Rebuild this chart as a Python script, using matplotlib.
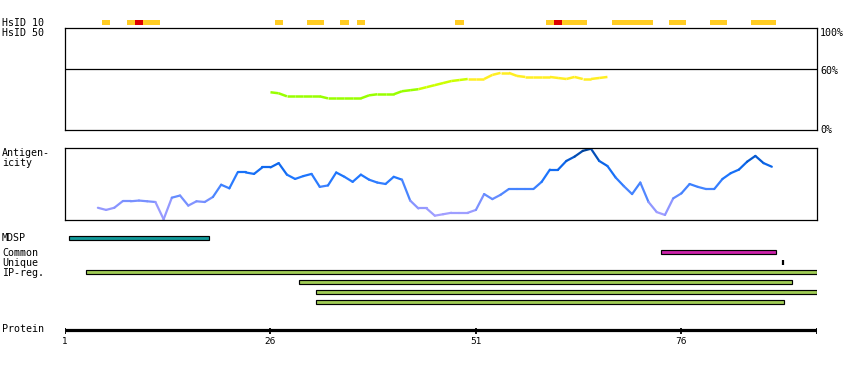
import matplotlib
matplotlib.use("Agg")
import matplotlib.pyplot as plt
import numpy as np
from matplotlib.collections import LineCollection
from matplotlib.colors import LinearSegmentedColormap

# ---------------- data ----------------
protein_length = 92
axis_ticks = [1, 26, 51, 76]

# HsID 10 conserved residues (first, last)
hsid10_yellow = [(6, 6), (9, 9), (11, 12), (27, 27), (31, 32), (35, 35), (37, 37),
                 (49, 49), (60, 60), (62, 64), (68, 72), (75, 76), (80, 81), (85, 87)]
hsid10_red = [(10, 10), (61, 61)]

# HsID 50 similarity (%) per residue
sim_threshold = 60
sim_pos = list(range(26, 68))
sim_val = [37, 36, 33, 33, 33, 33, 33, 31, 31, 31, 31, 31, 34, 35, 35, 35, 38, 39,
           40, 42, 44, 46, 48, 49, 50, 50, 50, 54, 56, 56, 53, 52, 52, 52, 52, 51,
           50, 52, 50, 50, 51, 52]

# Antigenicity per residue (relative, 0-100)
ag_pos = list(range(5, 88))
ag_val = [17, 14, 17, 26, 26, 27, 26, 25, 1, 31, 34, 20, 26, 25, 32, 49, 44, 66,
          66, 64, 73, 73, 79, 63, 57, 61, 64, 46, 48, 66, 60, 53, 63, 56, 52, 50,
          60, 56, 27, 16, 16, 6, 8, 10, 10, 10, 14, 36, 29, 35, 43, 43, 43, 43,
          53, 70, 70, 82, 88, 96, 99, 82, 75, 59, 47, 36, 52, 25, 11, 7, 30, 37,
          50, 46, 43, 43, 57, 65, 70, 81, 89, 79, 74]

# Feature tracks (first residue, last residue)
mdsp = [(2, 18)]
common = [(74, 87)]
unique_sites = [88.4]
ip_reg = [(4, 92), (30, 89), (32, 92), (32, 88)]

# ---------------- layout helpers ----------------
W, H = 850, 370
fig = plt.figure(figsize=(W / 100, H / 100), dpi=100)
fig.patch.set_facecolor("white")
XMAX = protein_length + 0.5
MONO = "DejaVu Sans Mono"


def px_axes(x0, y0, x1, y1):
    ax = fig.add_axes([x0 / W, 1 - y1 / H, (x1 - x0) / W, (y1 - y0) / H])
    ax.set_xlim(1, XMAX)
    return ax


def label(x, y, s, size=7.2, ha="left"):
    fig.text(x / W, 1 - y / H, s, fontsize=size, family=MONO, ha=ha, va="center")


def boxed(ax):
    ax.set_xticks([])
    ax.set_yticks([])
    for sp in ax.spines.values():
        sp.set_color("black")
        sp.set_linewidth(0.9)


# ---------------- HsID 10 track ----------------
ax_hs = px_axes(65, 20, 817, 25)
ax_hs.set_ylim(0, 1)
ax_hs.axis("off")
for segs, col in ((hsid10_yellow, "#FFCC22"), (hsid10_red, "#DD0000")):
    for a, b in segs:
        ax_hs.barh(0.5, b - a + 1, left=a - 0.5, height=1, color=col, linewidth=0)

label(2, 22.5, "HsID 10")
label(2, 33, "HsID 50")

# ---------------- similarity plot ----------------
ax_sim = px_axes(65, 28, 817, 130)
ax_sim.set_ylim(0, 100)
boxed(ax_sim)
ax_sim.axhline(sim_threshold, color="black", lw=0.9)


def sim_color(v):
    if v >= 50:
        return "#FFEE22"
    if v >= 40:
        return "#CCFF00"
    return "#99FF00"


segs = [[(sim_pos[i], sim_val[i]), (sim_pos[i + 1], sim_val[i + 1])] for i in range(len(sim_pos) - 1)]
cols = [sim_color(sim_val[i]) for i in range(len(sim_pos) - 1)]
ax_sim.add_collection(LineCollection(segs, colors=cols, linewidths=1.8, capstyle="butt"))

label(820, 32.5, "100%")
label(820, 70.5, "60%")
label(820, 130, "0%")

# ---------------- antigenicity ----------------
ax_ag = px_axes(65, 148, 817, 220)
ax_ag.set_ylim(0, 100)
boxed(ax_ag)
cmap = LinearSegmentedColormap.from_list(
    "ag", [(0.0, "#B0A6FF"), (0.2, "#8C95FF"), (0.4, "#4C86FF"),
           (0.6, "#1F77FF"), (0.8, "#0862E6"), (1.0, "#003F8F")])
segs = [[(ag_pos[i], ag_val[i]), (ag_pos[i + 1], ag_val[i + 1])] for i in range(len(ag_pos) - 1)]
cols = [cmap((ag_val[i] + ag_val[i + 1]) / 200) for i in range(len(ag_pos) - 1)]
ax_ag.add_collection(LineCollection(segs, colors=cols, linewidths=1.6, capstyle="round"))

label(2, 153, "Antigen-")
label(2, 163, "icity")

# ---------------- feature tracks ----------------
ax_ft = px_axes(65, 230, 817, 310)
ax_ft.set_ylim(310, 230)
ax_ft.axis("off")


def draw_bars(rows, y, color, h=3.8):
    for a, b in rows:
        ax_ft.barh(y, b - a + 1, left=a - 0.5, height=h, color=color,
                   edgecolor="black", linewidth=0.85)


draw_bars(mdsp, 237.8, "#129A9A", h=4.4)
draw_bars(common, 252.3, "#CC22AA")
ax_ft.vlines(unique_sites, 260, 264.7, color="black", linewidth=1.6)
for k, seg in enumerate(ip_reg):
    draw_bars([seg], 272.3 + 10 * k, "#A0CC55")

label(2, 238, "MDSP")
label(2, 252.5, "Common")
label(2, 262.5, "Unique")
label(2, 272.5, "IP-reg.")

# ---------------- protein axis ----------------
ax_pr = px_axes(65, 320, 817, 352)
ax_pr.set_ylim(352, 320)
ax_pr.axis("off")
ax_pr.hlines(329.5, 1, XMAX, color="black", linewidth=2.3)
ax_pr.vlines(axis_ticks + [XMAX], 327.5, 334, color="black", linewidth=1.3)
for t in axis_ticks:
    ax_pr.text(t, 341.5, str(t), fontsize=6.5, family="DejaVu Sans", ha="center", va="center")
label(2, 329.5, "Protein")

fig.savefig("out.png", dpi=100)
